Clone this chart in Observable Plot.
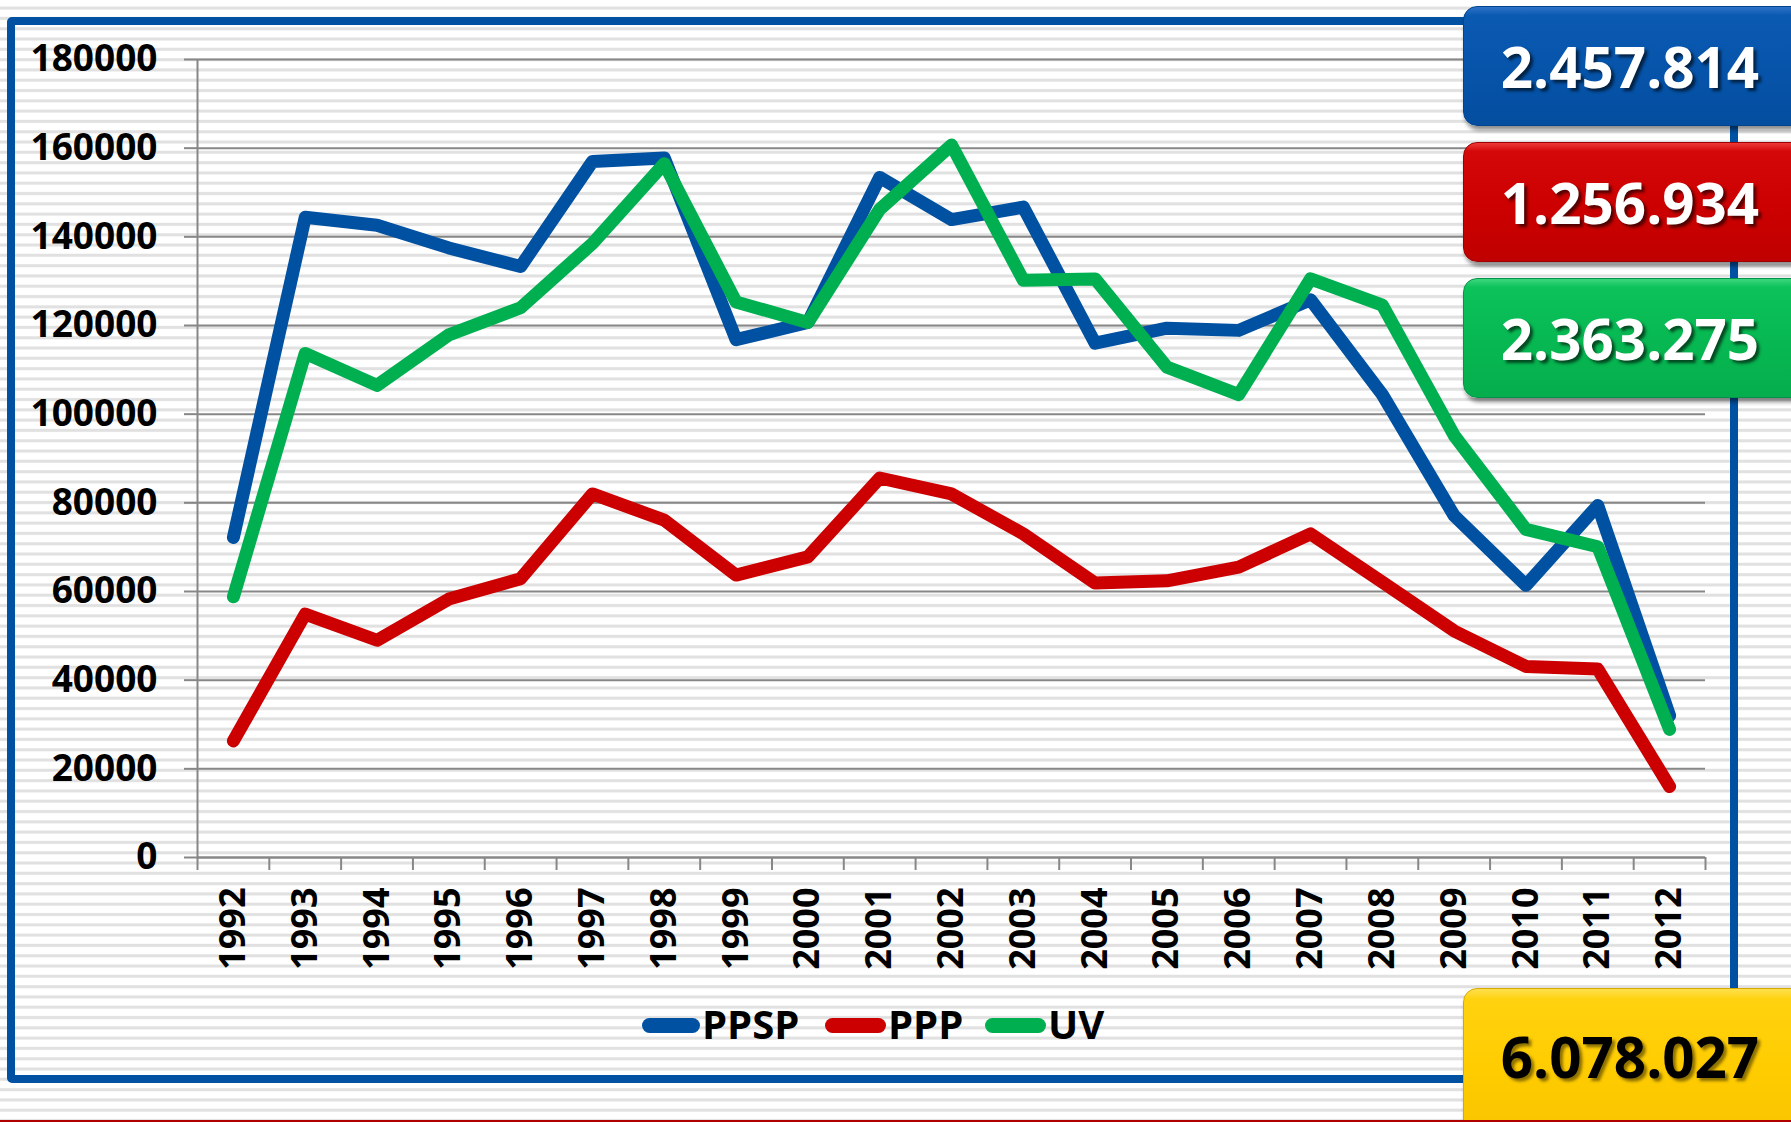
<!DOCTYPE html>
<html>
<head>
<meta charset="utf-8">
<script src="https://cdn.jsdelivr.net/npm/d3@7"></script>
<script src="https://cdn.jsdelivr.net/npm/@observablehq/plot@0.6"></script>
<style>
html,body{margin:0;padding:0;}
body{width:1791px;height:1122px;overflow:hidden;
  background:#fff repeating-linear-gradient(to bottom,#ffffff 0px,#ffffff 6px,#e1e1e1 7.2px,#e1e1e1 9px,#ffffff 10.3px);
  font-family:"Open Sans",sans-serif;}
#wrap{position:relative;width:1791px;height:1122px;overflow:hidden;}
#chart{position:absolute;left:0;top:0;}
.frame{position:absolute;left:7px;top:17px;width:1731px;height:1066px;box-sizing:border-box;border:8px solid #0051a2;border-radius:5px;}
.box{position:absolute;left:1463px;width:345px;border-radius:14px;box-shadow:2px 4px 4px rgba(0,0,0,0.45);}
.box span{position:absolute;left:0;top:0;width:332px;text-align:center;font-family:"Open Sans",sans-serif;font-weight:700;font-size:56.5px;white-space:nowrap;}
.leg{position:absolute;}
.sw{position:absolute;height:15px;border-radius:8px;}
.lt{position:absolute;font-family:"Open Sans",sans-serif;font-weight:700;font-size:40px;line-height:50px;color:#000;white-space:nowrap;}
.redline{position:absolute;left:0;top:1120px;width:1791px;height:2px;background:#b00000;}
</style>
</head>
<body>
<div id="wrap"></div>
<script>
// ---- data ----
const years = [1992,1993,1994,1995,1996,1997,1998,1999,2000,2001,2002,2003,2004,2005,2006,2007,2008,2009,2010,2011,2012];
const seriesNames = ["PPSP","PPP","UV"];
const seriesColors = ["#0051a2","#cc0000","#00b050"];
const ppsp = [72200,144400,142600,137500,133300,157000,157800,116800,120700,153400,143900,146700,116000,119400,118900,125800,104400,77100,61400,79400,32000];
const ppp  = [26300,54900,49000,58300,62900,82000,76100,63700,67800,85600,82000,73000,61900,62400,65500,73000,62100,51100,43100,42500,16000];
const uv   = [58800,113700,106500,117900,124000,138500,156500,125300,120700,146200,160700,130200,130500,110600,104400,130500,124600,95200,74000,70100,28900];
const yTicks = [0,20000,40000,60000,80000,100000,120000,140000,160000,180000];
const totalLabels = ["2.457.814","1.256.934","2.363.275","6.078.027"];

const values = [ppsp, ppp, uv];
const rows = [];
seriesNames.forEach((name, s) => years.forEach((yr, i) => rows.push({year: yr, value: values[s][i], name})));
const bounds = years.map(y => y - 0.5).concat([years[years.length - 1] + 0.5]);

const grid = "#878787";
const chart = Plot.plot({
  width: 1791, height: 1122,
  marginLeft: 197, marginRight: 86, marginTop: 59, marginBottom: 265,
  style: {background: "transparent", fontFamily: "Open Sans", overflow: "visible"},
  x: {type: "linear", domain: [bounds[0], bounds[bounds.length - 1]]},
  y: {domain: [0, 180000]},
  color: {domain: seriesNames, range: seriesColors},
  marks: [
    Plot.gridY(yTicks, {stroke: grid, strokeOpacity: 1, strokeWidth: 2}),
    Plot.ruleX([bounds[0]], {stroke: grid, strokeWidth: 2}),
    Plot.ruleY([0], {stroke: grid, strokeWidth: 2}),
    Plot.axisY(yTicks, {tickSize: 13, tickPadding: 27, tickFormat: d => String(d), fontSize: 37, fontWeight: 700, fill: "#000", stroke: grid, strokeWidth: 2, label: null}),
    Plot.axisX(bounds, {tickSize: 13, tickFormat: () => "", stroke: grid, strokeWidth: 2, label: null}),
    Plot.axisX(years, {tickSize: 0, tickPadding: 30, tickRotate: -90, tickFormat: d => String(d), fontSize: 36, fontWeight: 700, fill: "#000", label: null}),
    Plot.line(rows, {x: "year", y: "value", z: "name", stroke: "name", strokeWidth: 13, strokeLinecap: "round", strokeLinejoin: "round"})
  ]
});
chart.id = "chart";
const wrap = document.getElementById("wrap");
wrap.appendChild(chart);

// frame
const frame = document.createElement("div");
frame.className = "frame";
wrap.appendChild(frame);

// legend
const legLeft = [642, 825, 985];
const legW = [58, 61, 61];
seriesNames.forEach((name, i) => {
  const sw = document.createElement("div");
  sw.className = "sw";
  sw.style.left = legLeft[i] + "px";
  sw.style.top = "1017.5px";
  sw.style.width = legW[i] + "px";
  sw.style.background = seriesColors[i];
  wrap.appendChild(sw);
  const t = document.createElement("div");
  t.className = "lt";
  t.style.left = (legLeft[i] + legW[i] + 2) + "px";
  t.style.top = "999px";
  t.textContent = name;
  wrap.appendChild(t);
});

// total boxes
const boxStyles = [
  {top: 6, h: 120, lh: 120, bg: "linear-gradient(to bottom,#2d73c8 0%,#0b5ab2 7%,#0654aa 55%,#044d9f 100%)", border: "#03448f", color: "#fff", shadow: "3px 3px 3px rgba(0,0,0,0.6)"},
  {top: 142, h: 120, lh: 120, bg: "linear-gradient(to bottom,#ee3a3a 0%,#d40808 7%,#cc0000 55%,#c00000 100%)", border: "#9c0000", color: "#fff", shadow: "3px 3px 3px rgba(0,0,0,0.6)"},
  {top: 278, h: 120, lh: 120, bg: "linear-gradient(to bottom,#3dd67d 0%,#0cc25a 7%,#07b852 55%,#05ad4c 100%)", border: "#04934a", color: "#fff", shadow: "3px 3px 3px rgba(0,0,0,0.6)"},
  {top: 988, h: 150, lh: 136, bg: "linear-gradient(to bottom,#ffe04d 0%,#ffd20f 7%,#ffcc00 55%,#f7c400 100%)", border: "#d9a800", color: "#000", shadow: "3px 3px 3px rgba(0,0,0,0.45)"}
];
totalLabels.forEach((lab, i) => {
  const b = boxStyles[i];
  const d = document.createElement("div");
  d.className = "box";
  d.style.top = b.top + "px";
  d.style.height = b.h + "px";
  d.style.background = b.bg;
  d.style.border = "1px solid " + b.border;
  d.style.boxSizing = "border-box";
  const s = document.createElement("span");
  s.style.lineHeight = b.lh + "px";
  s.style.color = b.color;
  s.style.textShadow = b.shadow;
  s.textContent = lab;
  d.appendChild(s);
  wrap.appendChild(d);
});

const rl = document.createElement("div");
rl.className = "redline";
wrap.appendChild(rl);
</script>
</body>
</html>
